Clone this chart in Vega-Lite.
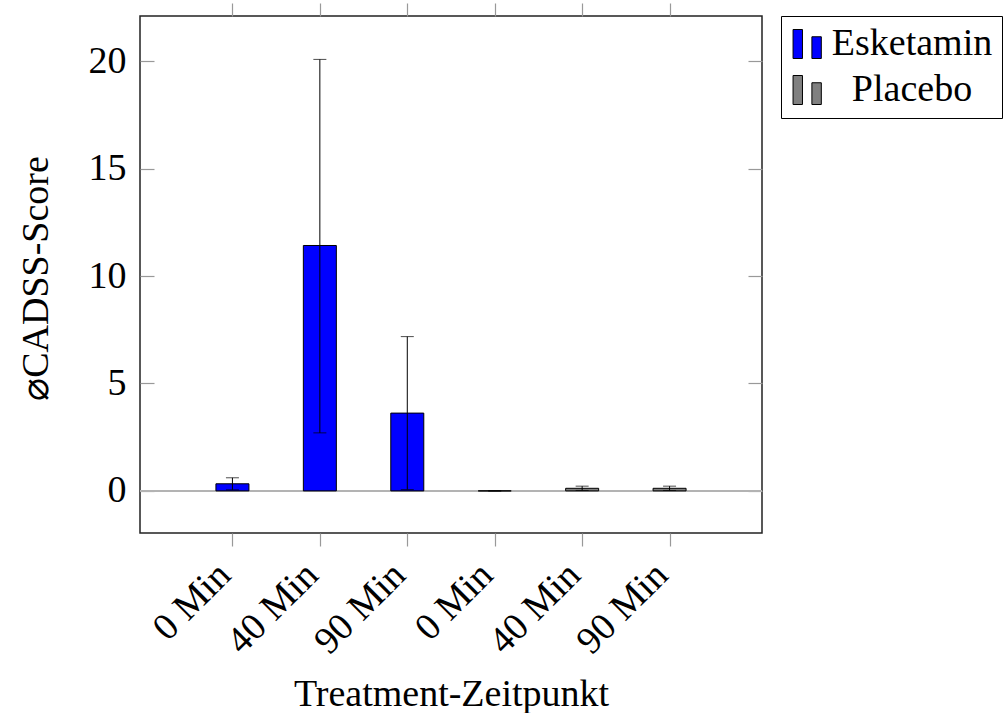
{
  "$schema": "https://vega.github.io/schema/vega-lite/v6.json",
  "width": 622,
  "height": 517,
  "autosize": "none",
  "padding": {"left": 140, "top": 16, "right": 241, "bottom": 180},
  "background": "white",
  "config": {
    "view": {"stroke": "#222", "strokeWidth": 1.5},
    "axis": {
      "labelFont": "Liberation Serif", "labelFontSize": 38, "labelColor": "black",
      "titleFont": "Liberation Serif", "titleFontSize": 38, "titleFontWeight": "normal", "titleColor": "black",
      "tickColor": "#999", "tickWidth": 1.2, "grid": false, "domain": false
    }
  },
  "data": {"values": [
    {"pos": 1, "label": "0 Min", "group": "Esketamin", "mean": 0.33, "lo": 0.05, "hi": 0.61},
    {"pos": 2, "label": "40 Min", "group": "Esketamin", "mean": 11.42, "lo": 2.70, "hi": 20.08},
    {"pos": 3, "label": "90 Min", "group": "Esketamin", "mean": 3.62, "lo": 0.06, "hi": 7.18},
    {"pos": 4, "label": "0 Min", "group": "Placebo", "mean": 0.0, "lo": 0.0, "hi": 0.0},
    {"pos": 5, "label": "40 Min", "group": "Placebo", "mean": 0.12, "lo": 0.02, "hi": 0.22},
    {"pos": 6, "label": "90 Min", "group": "Placebo", "mean": 0.12, "lo": 0.02, "hi": 0.22}
  ]},
  "resolve": {"axis": {"x": "independent", "y": "independent"}},
  "layer": [
    {
      "mark": {"type": "rule", "color": "#b3b3b3", "strokeWidth": 1.5},
      "encoding": {"y": {"datum": 0, "type": "quantitative", "axis": null}}
    },
    {
      "mark": {"type": "bar", "orient": "vertical", "size": 33, "stroke": "black", "strokeWidth": 1},
      "encoding": {
        "x": {"field": "pos", "type": "quantitative", "scale": {"domain": [0, 7], "nice": false, "zero": false},
              "axis": {"orient": "bottom", "title": "Treatment-Zeitpunkt", "values": [1, 2, 3, 4, 5, 6],
                       "labelExpr": "datum.value % 3 == 1 ? '0 Min' : (datum.value % 3 == 2 ? '40 Min' : '90 Min')",
                       "labelAngle": -45, "labelAlign": "right", "labelBaseline": "middle",
                       "labelOverlap": false, "labelOffset": -8,
                       "tickSize": 13, "labelPadding": 23, "labelLimit": 0,
                       "titleY": 172, "titleBaseline": "alphabetic", "titleX": 311, "titleAlign": "center"}},
        "y": {"field": "mean", "type": "quantitative", "stack": null,
              "scale": {"domain": [-1.96, 22.1], "nice": false, "zero": false},
              "axis": {"orient": "left", "title": "⌀CADSS-Score", "values": [0, 5, 10, 15, 20],
                       "tickSize": -14, "labelPadding": 28,
                       "titleX": -93, "titleY": 262, "titleAngle": -90, "titleAlign": "center", "titleBaseline": "alphabetic"}},
        "y2": {"datum": 0},
        "color": {"field": "group", "type": "nominal",
                  "scale": {"domain": ["Esketamin", "Placebo"], "range": ["#0000ff", "#808080"]},
                  "legend": {"title": null, "orient": "none", "legendX": 641, "legendY": 0,
                             "strokeColor": "black", "padding": 9, "fillColor": "white",
                             "symbolType": "M-1.1,-1H-0.45V1H-1.1Z M0.2,-0.5H0.85V1H0.2Z",
                             "symbolSize": 841, "symbolStrokeColor": "black", "symbolStrokeWidth": 1, "symbolOpacity": 1,
                             "labelFont": "Liberation Serif", "labelFontSize": 38, "labelColor": "black",
                             "labelAlign": "center", "labelOffset": 84, "labelLimit": 0, "rowPadding": 8}}
      }
    },
    {
      "mark": {"type": "rule", "color": "black", "strokeWidth": 1},
      "encoding": {
        "x": {"field": "pos", "type": "quantitative",
              "axis": {"orient": "top", "labels": false, "title": null, "values": [1, 2, 3, 4, 5, 6], "tickSize": 13}},
        "y": {"field": "lo", "type": "quantitative",
              "axis": {"orient": "right", "labels": false, "title": null, "values": [0, 5, 10, 15, 20], "tickSize": -14}},
        "y2": {"field": "hi"}
      }
    },
    {
      "mark": {"type": "tick", "orient": "horizontal", "size": 13, "thickness": 1, "color": "black"},
      "encoding": {
        "x": {"field": "pos", "type": "quantitative", "axis": null},
        "y": {"field": "hi", "type": "quantitative", "axis": null}
      }
    },
    {
      "mark": {"type": "tick", "orient": "horizontal", "size": 13, "thickness": 1, "color": "black"},
      "encoding": {
        "x": {"field": "pos", "type": "quantitative", "axis": null},
        "y": {"field": "lo", "type": "quantitative", "axis": null}
      }
    }
  ]
}
